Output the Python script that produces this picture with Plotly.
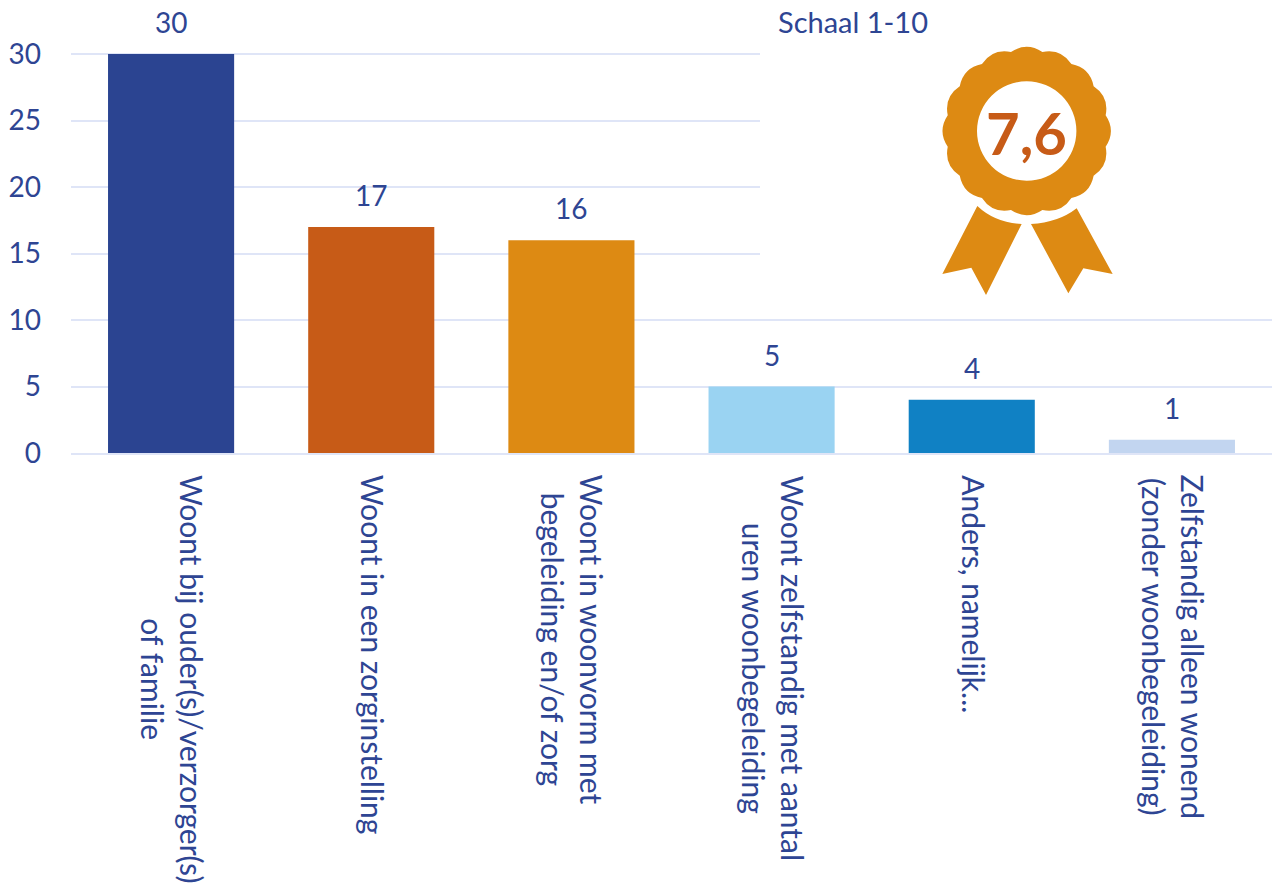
import math
import plotly.graph_objects as go

categories = ["Woont bij ouder(s)/verzorger(s)<br>of familie", "Woont in een zorginstelling",
              "Woont in woonvorm met<br>begeleiding en/of zorg", "Woont zelfstandig met aantal<br>uren woonbegeleiding",
              "Anders, namelijk...", "Zelfstandig alleen wonend<br>(zonder woonbegeleiding)"]
values = [30, 17, 16, 5, 4, 1]
bar_colors = ["#2B4491", "#C75B17", "#DD8A13", "#9AD3F2", "#1081C4", "#C2D5F0"]
y_ticks = [0, 5, 10, 15, 20, 25, 30]
y_range = [0, 30.15]
score_label = "7,6"
scale_label = "Schaal 1-10"

TEXT = "#2E4593"
FONT = "Lato"
GRID = "#DFE5F7"
W, H = 1283, 883
L, R, T, B = 71, 11, 52, 430
PW, PH = W - L - R, H - T - B

def px(x): return (x - L) / PW
def py(y): return 1 - (y - T) / PH
def P(x, y): return f"{px(x):.5f} {py(y):.5f}"

cx, cy = 1026.7, 131
n = 16
rj, rc = 80.5, 89.5
step = 2 * math.pi / n
def pt(r, a): return P(cx + r * math.sin(a), cy - r * math.cos(a))
path = "M" + pt(rj, -step / 2)
for i in range(n):
    a = i * step
    path += " Q" + pt(rc, a) + " " + pt(rj, a + step / 2)
path += " Z"

def z(x, y): return P(900 + x / 3, y / 3)
rib_left = f"M{z(232,618)} Q{z(285,668)} {z(365,672)} L{z(258,885)} L{z(214,803)} L{z(127,822)} Z"
rib_right = f"M{z(530,625)} Q{z(475,668)} {z(393,672)} L{z(505,880)} L{z(550,805)} L{z(638,822)} Z"

fig = go.Figure(go.Bar(x=categories, y=values, marker=dict(color=bar_colors, line_width=0), width=0.63))

shapes = [
    dict(type="rect", xref="paper", yref="paper", x0=px(760), x1=px(1283), y0=py(300), y1=py(0),
         fillcolor="white", line_width=0, layer="above"),
    dict(type="path", xref="paper", yref="paper", path=path, fillcolor="#DD8A13", line_width=0, layer="above"),
    dict(type="circle", xref="paper", yref="paper", x0=px(cx - 49.7), x1=px(cx + 49.7),
         y0=py(cy + 49.7), y1=py(cy - 49.7), fillcolor="white", line_width=0, layer="above"),
    dict(type="path", xref="paper", yref="paper", path=rib_left, fillcolor="#DD8A13", line_width=0, layer="above"),
    dict(type="path", xref="paper", yref="paper", path=rib_right, fillcolor="#DD8A13", line_width=0, layer="above"),
]

annotations = []
for c, v in zip(categories, values):
    annotations.append(dict(x=c, y=v, xref="x", yref="y", text=str(v), showarrow=False, xanchor="center",
                            yanchor="bottom", yshift=13, font=dict(family=FONT, size=28, color=TEXT)))
    annotations.append(dict(x=c, y=0, xref="x", yref="y", text=c, showarrow=False, textangle=90, xanchor="center",
                            yanchor="top", align="center", xshift=2, yshift=-20,
                            font=dict(family=FONT, size=30, color=TEXT)))
annotations.append(dict(x=px(853), y=py(21), xref="paper", yref="paper", text=scale_label, showarrow=False,
                        xanchor="center", yanchor="middle", font=dict(family=FONT, size=29, color=TEXT)))
annotations.append(dict(x=px(1026.5), y=py(132), xref="paper", yref="paper", text=f"<b>{score_label}</b>",
                        showarrow=False, xanchor="center", yanchor="middle",
                        font=dict(family=FONT, size=58, color="#C75B17")))

fig.update_layout(
    width=W, height=H, margin=dict(l=L, r=R, t=T, b=B, pad=0, autoexpand=False), paper_bgcolor="white",
    plot_bgcolor="white", showlegend=False, shapes=shapes, annotations=annotations,
    xaxis=dict(showticklabels=False, showgrid=False, zeroline=False, ticks="", showline=True, linecolor=GRID,
               linewidth=2, automargin=False),
    yaxis=dict(range=y_range, tickvals=y_ticks, showgrid=True, gridcolor=GRID, gridwidth=2, zeroline=False,
               ticks="", ticklabelstandoff=29, automargin=False, tickfont=dict(family=FONT, size=28, color=TEXT)),
)
fig.write_html("out.html", config=dict(displayModeBar=False), post_script="document.body.style.margin='0';")
